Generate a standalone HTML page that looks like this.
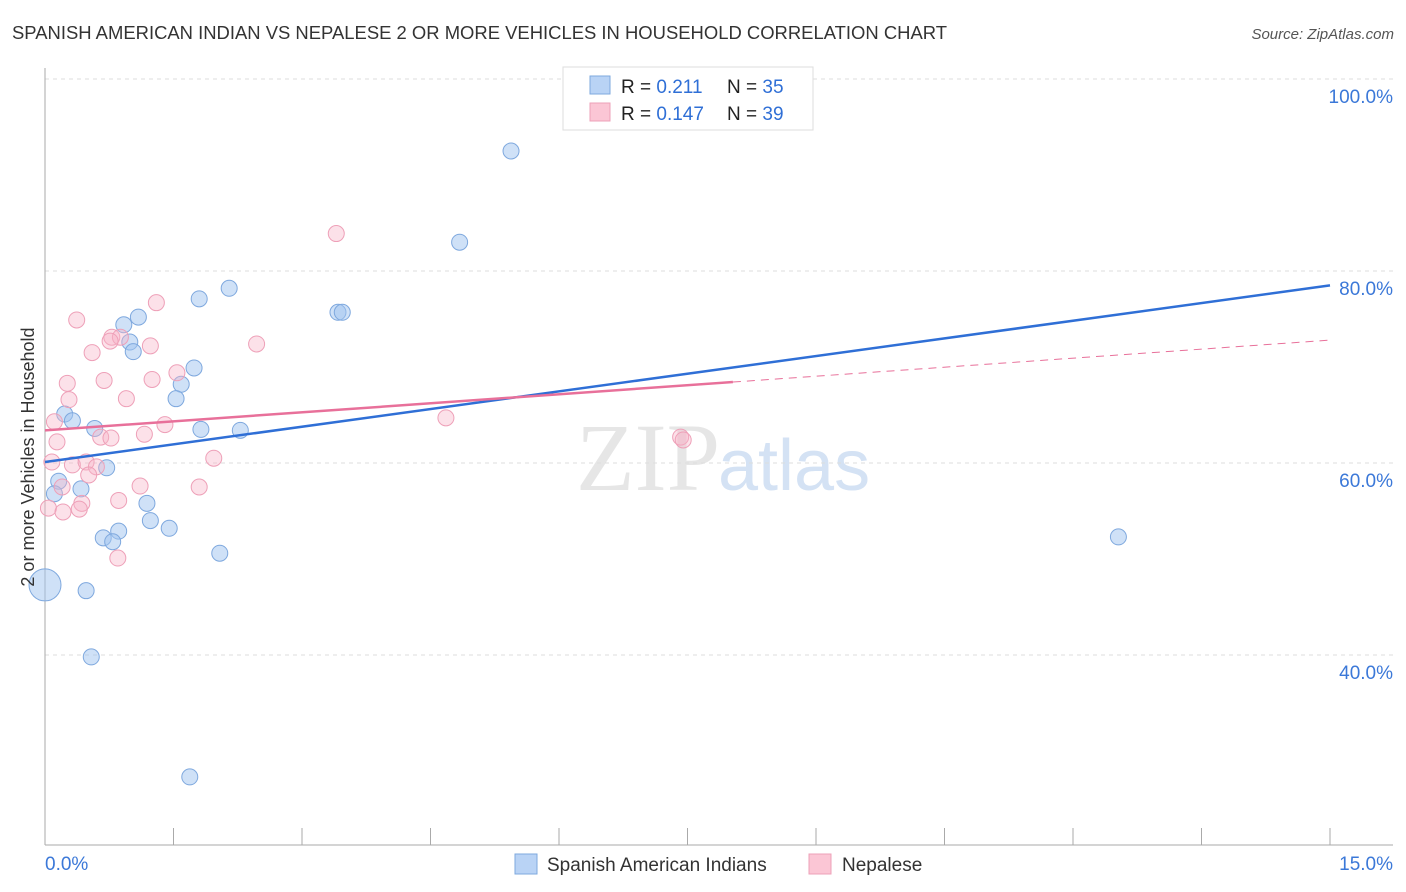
<!DOCTYPE html>
<html><head><meta charset="utf-8"><style>
body{margin:0;background:#fff;font-family:"Liberation Sans",sans-serif;}
svg{display:block}
</style></head><body>
<svg id="chart" width="1406" height="892" xmlns="http://www.w3.org/2000/svg">
<text x="12" y="39" font-size="18.4" fill="#333" textLength="935" lengthAdjust="spacingAndGlyphs">SPANISH AMERICAN INDIAN VS NEPALESE 2 OR MORE VEHICLES IN HOUSEHOLD CORRELATION CHART</text>
<text x="1394" y="39" font-size="15" fill="#555" font-style="italic" text-anchor="end">Source: ZipAtlas.com</text>
<text x="720" y="490" font-size="96" fill="#e6e6e6" text-anchor="end" font-family="Liberation Serif,serif">ZIP</text>
<text x="718" y="490" font-size="72" fill="#d4e2f4">atlas</text>
<g id="grid"></g>
<g id="axes"></g>
<g id="marks"></g>
<text transform="translate(34,457) rotate(-90)" font-size="18" fill="#333" text-anchor="middle">2 or more Vehicles in Household</text>
<g>
<rect x="563" y="67" width="250" height="63" fill="#fff" stroke="#ddd"/>
<rect x="590" y="76" width="20" height="18" fill="#b9d3f5" stroke="#7ea8de"/>
<rect x="590" y="103" width="20" height="18" fill="#fbc6d5" stroke="#eea0b8"/>
<text x="621" y="93" font-size="19" fill="#222">R = <tspan fill="#2f6fd6"> 0.211</tspan></text>
<text x="727" y="93" font-size="19" fill="#222">N = <tspan fill="#2f6fd6">35</tspan></text>
<text x="621" y="120" font-size="19" fill="#222">R = <tspan fill="#2f6fd6">0.147</tspan></text>
<text x="727" y="120" font-size="19" fill="#222">N = <tspan fill="#2f6fd6">39</tspan></text>
</g>
<g>
<rect x="515" y="854" width="22" height="20" fill="#b9d3f5" stroke="#7ea8de"/>
<text x="547" y="871" font-size="19" fill="#333">Spanish American Indians</text>
<rect x="809" y="854" width="22" height="20" fill="#fbc6d5" stroke="#eea0b8"/>
<text x="842" y="871" font-size="19" fill="#333">Nepalese</text>
</g>
</svg>
<script>
const blueX=[5.44,4.84,2.15,1.80,1.09,0.92,3.42,3.47,0.99,1.03,1.74,1.59,1.53,0.23,0.32,0.58,1.82,2.28,0.72,0.16,0.42,0.11,1.19,1.23,1.45,0.86,0.68,0.79,2.04,12.53,0.0,0.48,0.54,1.69];
const blueY=[92.5,83.0,78.2,77.1,75.2,74.4,75.7,75.7,72.6,71.6,69.9,68.2,66.7,65.1,64.4,63.6,63.5,63.4,59.5,58.1,57.3,56.8,55.8,54.0,53.2,52.9,52.2,51.8,50.6,52.3,47.3,46.7,39.8,27.3];
const blueR=[8,8,8,8,8,8,8,8,8,8,8,8,8,8,8,8,8,8,8,8,8,8,8,8,8,8,8,8,8,8,16,8,8,8];
const pinkX=[3.40,1.30,0.37,0.78,0.88,1.23,2.47,0.55,0.76,0.26,0.69,1.25,1.54,0.28,0.95,1.40,0.11,4.68,0.14,0.65,0.77,1.16,7.42,7.45,0.08,0.32,0.48,0.60,1.97,0.51,1.11,1.80,0.20,0.86,0.43,0.04,0.21,0.40,0.85];
const pinkY=[83.9,76.7,74.9,73.1,73.1,72.2,72.4,71.5,72.7,68.3,68.6,68.7,69.4,66.6,66.7,64.0,64.3,64.7,62.2,62.7,62.6,63.0,62.7,62.4,60.1,59.8,60.1,59.6,60.5,58.75,57.6,57.5,57.5,56.1,55.8,55.3,54.9,55.2,50.1];
const blueTrend=[60.1,78.5];
const pinkTrend=[63.4,72.8];
const pinkSolidEnd=8.03;
const yTicks=[40,60,80,100];
const xTicks=[0,1.5,3,4.5,6,7.5,9,10.5,12,13.5,15];

const NS="http://www.w3.org/2000/svg";
const sx=v=>45+v/15*1285;
const sy=v=>79+(100-v)*9.6;
function mk(tag,attrs,parent){const e=document.createElementNS(NS,tag);for(const k in attrs)e.setAttribute(k,attrs[k]);parent.appendChild(e);return e;}
const grid=document.getElementById('grid'),axes=document.getElementById('axes'),marks=document.getElementById('marks');
yTicks.forEach(t=>{
 const l=mk('line',{x1:45,x2:1393,y1:sy(t),y2:sy(t),stroke:'#ddd','stroke-dasharray':'4,4'},grid);
 
 
 const tx=mk('text',{x:1393,y:sy(t)+24,'font-size':19,fill:'#3b78d8','text-anchor':'end'},grid);
 tx.textContent=t.toFixed(1)+'%';
 
 
});
const xa=mk('line',{x1:45,x2:1393,y1:845,y2:845,stroke:'#aaa'},axes);


const ya=mk('line',{x1:45,x2:45,y1:68,y2:845,stroke:'#aaa'},axes);


xTicks.forEach(t=>{
 const l=mk('line',{x1:sx(t),x2:sx(t),y1:828,y2:845,stroke:'#aaa'},axes);
 
 
});
[[0,'0.0%','start',45],[15,'15.0%','end',1393]].forEach(a=>{
 const tx=mk('text',{x:a[3],y:870,'font-size':19,fill:'#3b78d8','text-anchor':a[2]},axes);
 tx.textContent=a[1];
 
 
});
blueX.forEach((x,i)=>{
 const c=mk('circle',{cx:sx(x),cy:sy(blueY[i]),r:blueR[i],fill:'rgba(160,196,240,0.5)',stroke:'#7ea8de','stroke-width':1},marks);
 
 
});
pinkX.forEach((x,i)=>{
 const c=mk('circle',{cx:sx(x),cy:sy(pinkY[i]),r:8,fill:'rgba(248,180,200,0.4)',stroke:'#eea0b8','stroke-width':1},marks);
 
 
});
const pv=x=>pinkTrend[0]+(pinkTrend[1]-pinkTrend[0])*x/15;
const bl=mk('line',{x1:sx(0),y1:sy(blueTrend[0]),x2:sx(15),y2:sy(blueTrend[1]),stroke:'#2f6fd6','stroke-width':2.5},marks);


const pl=mk('line',{x1:sx(0),y1:sy(pv(0)),x2:sx(pinkSolidEnd),y2:sy(pv(pinkSolidEnd)),stroke:'#e8709a','stroke-width':2.5},marks);


const pd=mk('line',{x1:sx(pinkSolidEnd),y1:sy(pv(pinkSolidEnd)),x2:sx(15),y2:sy(pv(15)),stroke:'#e8709a','stroke-width':1,'stroke-dasharray':'8,6'},marks);


</script>
</body></html>
